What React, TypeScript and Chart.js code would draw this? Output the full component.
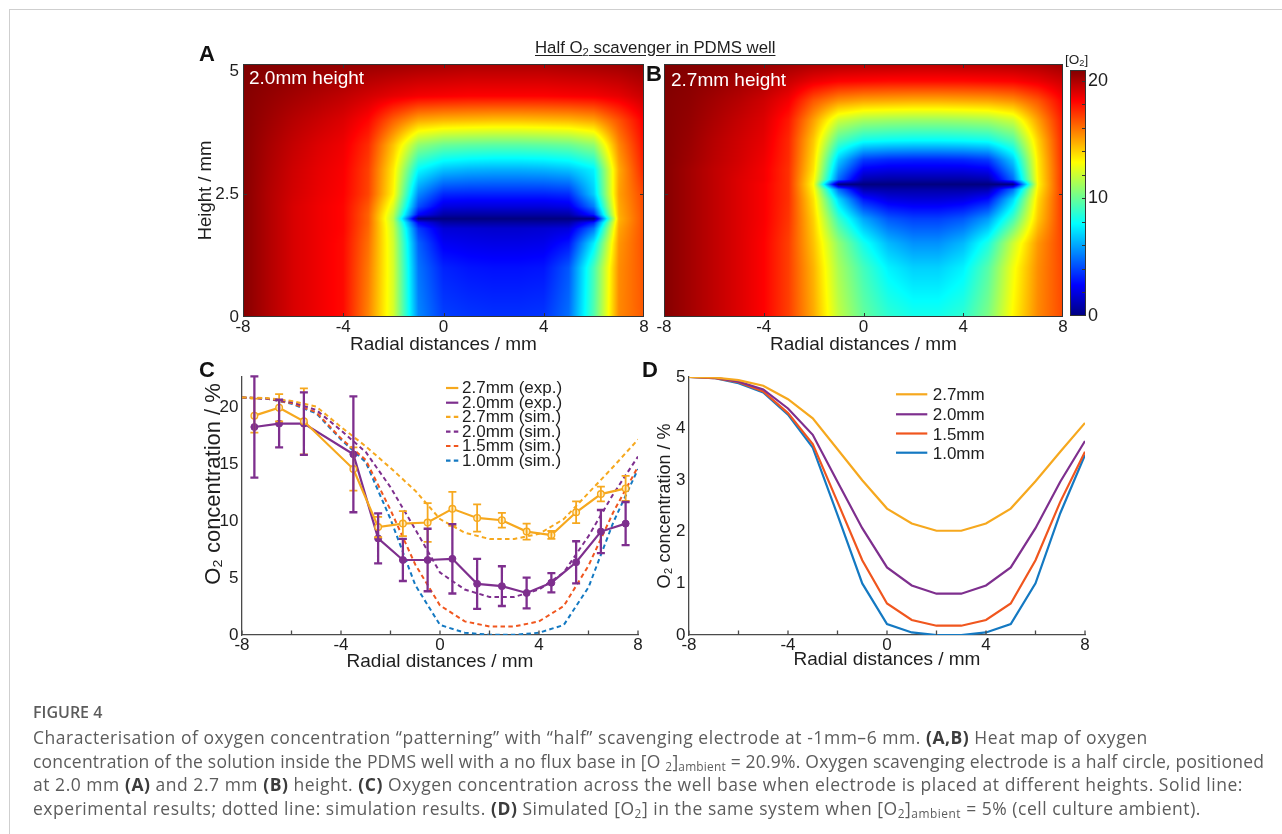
import React, { useEffect, useRef } from 'react';
import { Chart, registerables } from 'chart.js';

Chart.register(...registerables);

// ---------------- data ----------------
// heat maps: O2 concentration (%) on a grid, x = radial distance (mm), y = height (mm)
const heatX = [-8, -7, -6, -5, -4, -3, -2, -1, 0, 1, 2, 3, 4, 5, 6, 7, 8];

const heatA_Y = [0, 1.0, 1.5, 1.8, 1.92, 2.0, 2.08, 2.25, 2.5, 3.0, 3.5, 4.0, 4.5, 5.15];
const heatA_O2 = [
  [20.8, 19.9, 19.1, 18.6, 18.1, 15.6, 12.2, 5.4, 3.9, 3.7, 3.6, 3.6, 3.7, 4.9, 9.5, 15.5, 16.5],
  [20.8, 19.9, 19.1, 18.6, 18.1, 15.8, 12.2, 5.0, 3.3, 3.0, 2.9, 2.9, 3.0, 4.4, 9.3, 15.4, 16.6],
  [20.8, 19.9, 19.1, 18.6, 18.1, 16.0, 12.1, 4.6, 2.4, 2.2, 2.1, 2.1, 2.2, 3.0, 7.5, 15.2, 16.7],
  [20.8, 19.9, 19.1, 18.6, 18.2, 16.2, 11.9, 3.8, 1.8, 1.7, 1.6, 1.6, 1.7, 1.9, 5.0, 14.9, 16.7],
  [20.8, 19.9, 19.1, 18.6, 18.2, 16.3, 11.7, 2.6, 0.8, 0.7, 0.7, 0.7, 0.7, 0.8, 3.2, 14.7, 16.7],
  [20.8, 19.9, 19.1, 18.6, 18.2, 16.3, 11.5, 0.0, 0.0, 0.0, 0.0, 0.0, 0.0, 0.0, 0.0, 14.6, 16.7],
  [20.8, 19.9, 19.1, 18.6, 18.2, 16.3, 11.7, 2.6, 0.8, 0.7, 0.7, 0.7, 0.7, 0.8, 3.2, 14.7, 16.7],
  [20.8, 19.9, 19.1, 18.6, 18.2, 16.5, 12.3, 4.2, 2.0, 1.9, 1.9, 1.9, 1.9, 2.1, 5.2, 14.8, 16.8],
  [20.8, 19.9, 19.2, 18.7, 18.3, 16.9, 13.2, 5.4, 3.4, 3.3, 3.3, 3.3, 3.3, 3.5, 6.8, 15.0, 16.9],
  [20.8, 20.0, 19.3, 18.8, 18.4, 17.0, 13.5, 7.8, 6.6, 6.3, 6.2, 6.2, 6.3, 6.6, 7.6, 14.8, 17.6],
  [20.8, 20.1, 19.5, 19.0, 18.6, 17.4, 14.3, 10.8, 10.0, 9.8, 9.7, 9.7, 9.8, 10.0, 10.8, 15.5, 18.0],
  [20.8, 20.3, 19.8, 19.4, 19.0, 18.2, 16.3, 14.8, 14.5, 14.4, 14.3, 14.3, 14.4, 14.5, 14.9, 16.6, 18.4],
  [20.8, 20.5, 20.2, 19.9, 19.6, 19.2, 18.8, 18.5, 18.4, 18.3, 18.3, 18.3, 18.3, 18.4, 18.5, 18.8, 19.4],
  [20.9, 20.8, 20.7, 20.6, 20.5, 20.4, 20.3, 20.2, 20.1, 20.0, 20.0, 20.0, 20.0, 20.1, 20.2, 20.3, 20.5],
];

const heatB_Y = [0, 1.0, 1.5, 2.0, 2.4, 2.6, 2.7, 2.8, 3.0, 3.2, 3.6, 4.0, 4.4, 4.8, 5.15];
const heatB_O2 = [
  [20.8, 20.2, 19.6, 19.0, 18.3, 17.0, 14.8, 11.8, 9.9, 8.8, 8.3, 8.3, 8.8, 10.4, 13.2, 15.5, 16.8],
  [20.8, 20.2, 19.6, 19.0, 18.3, 17.0, 14.6, 11.3, 9.2, 7.6, 6.9, 6.9, 7.6, 9.6, 12.8, 15.4, 16.9],
  [20.8, 20.2, 19.6, 19.0, 18.3, 17.0, 14.3, 10.8, 8.2, 6.4, 5.6, 5.6, 6.4, 8.4, 12.0, 15.2, 17.0],
  [20.8, 20.2, 19.6, 19.0, 18.4, 17.2, 14.0, 9.0, 6.0, 4.4, 3.9, 3.9, 4.4, 5.8, 9.2, 14.2, 17.2],
  [20.8, 20.2, 19.6, 19.0, 18.4, 17.3, 13.6, 7.0, 3.0, 2.0, 1.8, 1.8, 2.0, 2.8, 7.0, 13.8, 17.3],
  [20.8, 20.2, 19.6, 19.0, 18.4, 17.3, 13.2, 4.8, 1.0, 0.8, 0.8, 0.8, 0.8, 1.0, 4.8, 13.4, 17.3],
  [20.8, 20.2, 19.6, 19.0, 18.4, 17.3, 13.0, 0.0, 0.0, 0.0, 0.0, 0.0, 0.0, 0.0, 0.0, 13.2, 17.4],
  [20.8, 20.2, 19.6, 19.0, 18.5, 17.3, 13.2, 4.8, 1.0, 0.8, 0.8, 0.8, 0.8, 1.0, 4.8, 13.3, 17.4],
  [20.8, 20.2, 19.6, 19.1, 18.5, 17.3, 13.6, 5.8, 2.4, 2.1, 2.1, 2.1, 2.1, 2.4, 5.8, 13.4, 17.4],
  [20.8, 20.3, 19.7, 19.2, 18.6, 17.4, 13.8, 6.8, 3.8, 3.4, 3.3, 3.3, 3.4, 3.8, 6.8, 13.5, 17.5],
  [20.8, 20.4, 19.8, 19.3, 18.8, 17.5, 14.2, 9.5, 8.2, 8.0, 7.9, 7.9, 8.0, 8.2, 9.5, 14.0, 17.6],
  [20.8, 20.5, 20.0, 19.5, 19.0, 17.8, 15.0, 12.0, 11.2, 11.0, 10.9, 10.9, 11.0, 11.2, 12.0, 15.0, 17.8],
  [20.8, 20.6, 20.2, 19.8, 19.3, 18.5, 16.5, 15.3, 14.9, 14.8, 14.7, 14.7, 14.8, 14.9, 15.3, 16.5, 18.3],
  [20.9, 20.7, 20.5, 20.2, 19.9, 19.4, 18.7, 18.3, 18.2, 18.1, 18.1, 18.1, 18.1, 18.2, 18.3, 18.7, 19.3],
  [20.9, 20.8, 20.7, 20.6, 20.4, 20.2, 20.0, 19.9, 19.8, 19.8, 19.7, 19.7, 19.8, 19.8, 19.9, 20.0, 20.3],
];

const O2_MAX = 20.9;
const heatXTicks = [-8, -4, 0, 4, 8];
const heatYTicks = [0, 2.5, 5];
const colorbarTicks = [0, 10, 20];

// panel C: experiment (mean ± error) and simulation at 20.9 % ambient
const expX = [-7.5, -6.5, -5.5, -3.5, -2.5, -1.5, -0.5, 0.5, 1.5, 2.5, 3.5, 4.5, 5.5, 6.5, 7.5];
const exp27 = [19.3, 20.0, 18.8, 14.6, 9.5, 9.8, 9.9, 11.1, 10.3, 10.1, 9.1, 8.8, 10.8, 12.4, 12.9];
const exp27Err = [1.5, 1.2, 2.9, 1.9, 0.9, 1.1, 1.7, 1.5, 1.2, 0.65, 0.7, 0.35, 0.95, 0.65, 1.1];
const exp20 = [18.3, 18.6, 18.6, 15.9, 8.5, 6.6, 6.6, 6.7, 4.5, 4.3, 3.7, 4.6, 6.4, 9.1, 9.8];
const exp20Err = [4.45, 2.1, 2.75, 5.1, 2.2, 1.85, 2.75, 3.05, 2.2, 1.75, 1.35, 0.85, 1.85, 1.9, 1.9];

const simX = [-8, -7, -6, -5, -4, -3, -2, -1, 0, 1, 2, 3, 4, 5, 6, 7, 8];
const sim27C = [20.9, 20.85, 20.6, 20.1, 18.3, 16.6, 14.7, 12.7, 10.2, 9.0, 8.45, 8.45, 8.9, 10.2, 12.5, 14.8, 17.2];
const sim20C = [20.9, 20.8, 20.5, 19.8, 18.0, 16.1, 13.0, 9.3, 5.5, 4.0, 3.35, 3.35, 4.0, 5.5, 8.7, 12.4, 15.7];
const sim15C = [20.9, 20.8, 20.4, 19.6, 17.3, 15.4, 11.0, 6.2, 2.6, 1.2, 0.75, 0.75, 1.2, 2.55, 6.1, 10.8, 14.8];
const sim10C = [20.9, 20.8, 20.35, 19.5, 17.2, 15.2, 10.2, 4.4, 0.88, 0.2, 0.02, 0.02, 0.2, 0.88, 4.2, 9.9, 14.6];
const cYTicks = [0, 5, 10, 15, 20];

// panel D: simulation at 5 % ambient
const sim27D = [5.0, 4.99, 4.94, 4.83, 4.57, 4.2, 3.6, 3.0, 2.45, 2.16, 2.02, 2.02, 2.16, 2.45, 2.98, 3.55, 4.11];
const sim20D = [5.0, 4.99, 4.91, 4.76, 4.39, 3.88, 2.97, 2.07, 1.31, 0.96, 0.8, 0.8, 0.96, 1.31, 2.07, 2.97, 3.76];
const sim15D = [5.0, 4.98, 4.9, 4.72, 4.3, 3.7, 2.58, 1.45, 0.61, 0.29, 0.18, 0.18, 0.29, 0.61, 1.45, 2.58, 3.55];
const sim10D = [5.0, 4.98, 4.88, 4.7, 4.27, 3.63, 2.33, 1.0, 0.21, 0.05, 0.0, 0.0, 0.05, 0.21, 1.0, 2.36, 3.49];
const dYTicks = [0, 1, 2, 3, 4, 5];
const lineXTicks = [-8, -4, 0, 4, 8];
const minorXTicks = [-8, -6, -4, -2, 0, 2, 4, 6, 8];

// ---------------- style ----------------
const PAGE_W = 1282;
const PAGE_H = 834;
const SANS = '"Liberation Sans", Arial, Helvetica, sans-serif';
const CAPFONT = '"Open Sans", "Noto Sans", sans-serif';
const TXT = '#1e1e1e';
const AXIS = '#4a4a4a';
const ORANGE = '#F6A81E';
const PURPLE = '#7E2F8E';
const RED = '#F0561E';
const BLUE = '#1479C2';
const CAP_COLOR = '#5c5c5c';

type Area = { left: number; right: number; top: number; bottom: number };
const areaA: Area = { left: 243, right: 644, top: 64, bottom: 317 };
const areaB: Area = { left: 664, right: 1063, top: 64, bottom: 317 };
const areaBar: Area = { left: 1070, right: 1086, top: 70, bottom: 316 };
const areaC: Area = { left: 242, right: 638, top: 377, bottom: 635 };
const areaD: Area = { left: 689, right: 1085, top: 377, bottom: 635 };

function pad(a: Area, leftW: number, bottomH: number, rightW = 0) {
  return {
    left: a.left - leftW,
    top: a.top,
    right: PAGE_W - a.right - rightW,
    bottom: PAGE_H - a.bottom - bottomH,
  };
}
const fixW = (w: number) => (s: any) => {
  s.width = w;
  s.paddingLeft = s.paddingRight = s.paddingTop = s.paddingBottom = 0;
};
const fixH = (h: number) => (s: any) => {
  s.height = h;
  s.paddingLeft = s.paddingRight = s.paddingTop = s.paddingBottom = 0;
};
const setTicks = (vals: number[]) => (s: any) => {
  s.ticks = vals.map((v) => ({ value: v }));
};
const zip = (xs: number[], ys: number[]) => xs.map((x, i) => ({ x, y: ys[i] }));

function clamp01(v: number) {
  return v < 0 ? 0 : v > 1 ? 1 : v;
}
function jet(t: number): [number, number, number] {
  t = clamp01(t);
  const r = clamp01(1.5 - Math.abs(4 * t - 3));
  const g = clamp01(1.5 - Math.abs(4 * t - 2));
  const b = clamp01(1.5 - Math.abs(4 * t - 1));
  return [Math.round(r * 255), Math.round(g * 255), Math.round(b * 255)];
}
function locate(arr: number[], v: number): [number, number] {
  const n = arr.length;
  if (v <= arr[0]) return [0, 0];
  if (v >= arr[n - 1]) return [n - 2, 1];
  let k = 0;
  while (k < n - 2 && v > arr[k + 1]) k++;
  return [k, (v - arr[k]) / (arr[k + 1] - arr[k])];
}

function makeHeatPlugin(ys: number[], z: number[][]) {
  return {
    id: 'heatImage',
    beforeDatasetsDraw(chart: any) {
      const { ctx, chartArea: a, scales } = chart;
      const w = Math.round(a.right - a.left);
      const h = Math.round(a.bottom - a.top);
      const off = document.createElement('canvas');
      off.width = w;
      off.height = h;
      const octx = off.getContext('2d')!;
      const img = octx.createImageData(w, h);
      const ci: number[] = [];
      const ct: number[] = [];
      for (let i = 0; i < w; i++) {
        const [k, t] = locate(heatX, scales.x.getValueForPixel(a.left + i + 0.5));
        ci.push(k);
        ct.push(t);
      }
      for (let j = 0; j < h; j++) {
        const [r, s] = locate(ys, scales.y.getValueForPixel(a.top + j + 0.5));
        const r0 = z[r];
        const r1 = z[r + 1];
        for (let i = 0; i < w; i++) {
          const k = ci[i];
          const t = ct[i];
          const v =
            (1 - s) * ((1 - t) * r0[k] + t * r0[k + 1]) + s * ((1 - t) * r1[k] + t * r1[k + 1]);
          const [R, G, B] = jet(v / O2_MAX);
          const p = (j * w + i) * 4;
          img.data[p] = R;
          img.data[p + 1] = G;
          img.data[p + 2] = B;
          img.data[p + 3] = 255;
        }
      }
      octx.putImageData(img, 0, 0);
      ctx.drawImage(off, a.left, a.top);
    },
  };
}

const heatFrame = {
  id: 'heatFrame',
  afterDraw(chart: any) {
    const { ctx, chartArea: a, scales } = chart;
    ctx.save();
    ctx.strokeStyle = '#333';
    ctx.lineWidth = 1;
    ctx.strokeRect(a.left + 0.5, a.top + 0.5, a.right - a.left - 1, a.bottom - a.top - 1);
    ctx.beginPath();
    for (const v of [-4, 0, 4]) {
      const px = Math.round(scales.x.getPixelForValue(v)) + 0.5;
      ctx.moveTo(px, a.bottom);
      ctx.lineTo(px, a.bottom - 4);
      ctx.moveTo(px, a.top);
      ctx.lineTo(px, a.top + 4);
    }
    const py = Math.round(scales.y.getPixelForValue(2.5)) + 0.5;
    ctx.moveTo(a.left, py);
    ctx.lineTo(a.left + 4, py);
    ctx.moveTo(a.right, py);
    ctx.lineTo(a.right - 4, py);
    ctx.stroke();
    ctx.restore();
  },
};

const colorbarPlugin = {
  id: 'colorbar',
  beforeDatasetsDraw(chart: any) {
    const { ctx, chartArea: a, scales } = chart;
    for (let y = Math.floor(a.top); y < a.bottom; y++) {
      const v = scales.y.getValueForPixel(y + 0.5);
      const [r, g, b] = jet(v / O2_MAX);
      ctx.fillStyle = `rgb(${r},${g},${b})`;
      ctx.fillRect(a.left, y, a.right - a.left, 1);
    }
  },
  afterDraw(chart: any) {
    const { ctx, chartArea: a, scales } = chart;
    ctx.save();
    ctx.strokeStyle = '#333';
    ctx.lineWidth = 1;
    ctx.strokeRect(a.left + 0.5, a.top + 0.5, a.right - a.left - 1, a.bottom - a.top - 1);
    ctx.beginPath();
    for (let v = 2; v <= 20; v += 2) {
      const py = Math.round(scales.y.getPixelForValue(v)) + 0.5;
      ctx.moveTo(a.right, py);
      ctx.lineTo(a.right - 4, py);
    }
    ctx.stroke();
    ctx.restore();
  },
};

const minorTicksPlugin = {
  id: 'minorTicks',
  afterDraw(chart: any) {
    const { ctx, chartArea: a, scales } = chart;
    ctx.save();
    ctx.strokeStyle = AXIS;
    ctx.lineWidth = 1.3;
    ctx.beginPath();
    for (const v of minorXTicks) {
      const px = scales.x.getPixelForValue(v);
      ctx.moveTo(px, a.bottom);
      ctx.lineTo(px, a.bottom - 4.5);
    }
    ctx.stroke();
    ctx.restore();
  },
};

const errorBarPlugin = {
  id: 'errorBars',
  afterDatasetsDraw(chart: any) {
    const { ctx, scales } = chart;
    ctx.save();
    chart.data.datasets.forEach((ds: any) => {
      if (!ds.errors) return;
      ctx.strokeStyle = ds.borderColor;
      ctx.lineWidth = ds.errorWidth || 2;
      ctx.setLineDash([]);
      ctx.beginPath();
      ds.data.forEach((p: any, i: number) => {
        const e = ds.errors[i];
        const px = scales.x.getPixelForValue(p.x);
        const y1 = scales.y.getPixelForValue(p.y + e);
        const y0 = scales.y.getPixelForValue(p.y - e);
        ctx.moveTo(px, y0);
        ctx.lineTo(px, y1);
        ctx.moveTo(px - 4, y0);
        ctx.lineTo(px + 4, y0);
        ctx.moveTo(px - 4, y1);
        ctx.lineTo(px + 4, y1);
      });
      ctx.stroke();
    });
    ctx.restore();
  },
};

function makeLegend(cfg: { x1: number; x2: number; tx: number; ys: number[]; size: number; dy: number }) {
  return {
    id: 'insideLegend',
    afterDraw(chart: any) {
      const ctx = chart.ctx;
      ctx.save();
      chart.data.datasets.forEach((ds: any, i: number) => {
        const y = cfg.ys[i];
        ctx.strokeStyle = ds.borderColor;
        ctx.lineWidth = 2.2;
        ctx.setLineDash(ds.borderDash || []);
        ctx.beginPath();
        ctx.moveTo(cfg.x1, y);
        ctx.lineTo(cfg.x2, y);
        ctx.stroke();
        ctx.setLineDash([]);
        ctx.fillStyle = TXT;
        ctx.font = `${cfg.size}px ${SANS}`;
        ctx.textBaseline = 'middle';
        ctx.textAlign = 'left';
        ctx.fillText(ds.label, cfg.tx, y + cfg.dy);
      });
      ctx.restore();
    },
  };
}

const tickFont = (size: number) => ({ family: SANS, size });
const titleFont = (size: number) => ({ family: SANS, size, lineHeight: 1 });
const noGrid = { display: false, drawTicks: false };
const baseOpts = {
  responsive: false,
  animation: false as const,
  events: [] as any[],
  plugins: { legend: { display: false }, tooltip: { enabled: false } },
};

function heatConfig(area: Area, ys: number[], z: number[][], showY: boolean) {
  const points: { x: number; y: number }[] = [];
  ys.forEach((y) => heatX.forEach((x) => points.push({ x, y })));
  const yW = 46.75;
  const xH = 37.5;
  return {
    type: 'scatter',
    data: { datasets: [{ data: points, pointRadius: 0 }] },
    options: {
      ...baseOpts,
      layout: { padding: pad(area, showY ? yW : 0, xH) },
      scales: {
        x: {
          type: 'linear',
          min: -8,
          max: 8,
          afterBuildTicks: setTicks(heatXTicks),
          afterFit: fixH(xH),
          grid: noGrid,
          border: { display: false },
          ticks: { font: tickFont(17), color: TXT, padding: 0, maxRotation: 0, autoSkip: false, callback: (v: any) => String(v) },
          title: { display: true, text: 'Radial distances / mm', font: titleFont(19), color: TXT, padding: 0 },
        },
        y: {
          type: 'linear',
          display: showY,
          min: 0,
          max: 5.15,
          afterBuildTicks: setTicks(heatYTicks),
          ...(showY ? { afterFit: fixW(yW) } : {}),
          grid: noGrid,
          border: { display: false },
          ticks: { font: tickFont(17), color: TXT, padding: 4, autoSkip: false, callback: (v: any) => String(v) },
          title: { display: true, text: 'Height / mm', font: titleFont(18.5), color: TXT, padding: 0 },
        },
      },
    },
    plugins: [makeHeatPlugin(ys, z), heatFrame],
  };
}

function colorbarConfig() {
  const yW = 30;
  return {
    type: 'scatter',
    data: { datasets: [{ data: [] as any[], pointRadius: 0 }] },
    options: {
      ...baseOpts,
      layout: { padding: pad(areaBar, 0, 0, yW) },
      scales: {
        x: { type: 'linear', display: false, min: 0, max: 1 },
        y: {
          type: 'linear',
          position: 'right',
          min: 0,
          max: O2_MAX,
          afterBuildTicks: setTicks(colorbarTicks),
          afterFit: fixW(yW),
          grid: noGrid,
          border: { display: false },
          ticks: { font: tickFont(18), color: TXT, padding: 2, autoSkip: false, callback: (v: any) => String(v) },
        },
      },
    },
    plugins: [colorbarPlugin],
  };
}

function lineScales(yMax: number, yTicks: number[], yW: number, xH: number, yTitleSize: number, yAlign: string, yTitle: string) {
  return {
    x: {
      type: 'linear',
      min: -8,
      max: 8,
      afterBuildTicks: setTicks(lineXTicks),
      afterFit: fixH(xH),
      grid: noGrid,
      border: { display: true, color: AXIS, width: 1.3 },
      ticks: { font: tickFont(17), color: TXT, padding: 0, maxRotation: 0, autoSkip: false, callback: (v: any) => String(v) },
      title: { display: true, text: 'Radial distances / mm', font: titleFont(19), color: TXT, padding: 0 },
    },
    y: {
      type: 'linear',
      min: 0,
      max: yMax,
      afterBuildTicks: setTicks(yTicks),
      afterFit: fixW(yW),
      grid: noGrid,
      border: { display: true, color: AXIS, width: 1.3 },
      ticks: { font: tickFont(17), color: TXT, padding: 3.5, autoSkip: false, callback: (v: any) => String(v) },
      title: { display: true, text: yTitle, align: yAlign, font: titleFont(yTitleSize), color: TXT, padding: 0 },
    },
  };
}

function chartCConfig() {
  const dash = [4.5, 3.3];
  return {
    type: 'line',
    data: {
      datasets: [
        {
          label: '2.7mm (exp.)', data: zip(expX, exp27), errors: exp27Err, errorWidth: 1.8,
          borderColor: ORANGE, borderWidth: 2.2, pointRadius: 3.3, pointBorderWidth: 1.4,
          pointBorderColor: ORANGE, pointBackgroundColor: 'rgba(255,240,200,0.9)', tension: 0,
        },
        {
          label: '2.0mm (exp.)', data: zip(expX, exp20), errors: exp20Err, errorWidth: 2.3,
          borderColor: PURPLE, borderWidth: 2.2, pointRadius: 3.5, pointBorderWidth: 1,
          pointBorderColor: PURPLE, pointBackgroundColor: PURPLE, tension: 0,
        },
        { label: '2.7mm (sim.)', data: zip(simX, sim27C), borderColor: ORANGE, borderDash: dash, borderWidth: 2, pointRadius: 0 },
        { label: '2.0mm (sim.)', data: zip(simX, sim20C), borderColor: PURPLE, borderDash: dash, borderWidth: 2, pointRadius: 0 },
        { label: '1.5mm (sim.)', data: zip(simX, sim15C), borderColor: RED, borderDash: dash, borderWidth: 2, pointRadius: 0 },
        { label: '1.0mm (sim.)', data: zip(simX, sim10C), borderColor: BLUE, borderDash: dash, borderWidth: 2, pointRadius: 0 },
      ],
    },
    options: {
      ...baseOpts,
      layout: { padding: pad(areaC, 39.5, 36.5) },
      scales: lineScales(22.7, cYTicks, 39.5, 36.5, 22, 'end', 'O₂ concentration / % '),
    },
    plugins: [
      errorBarPlugin,
      minorTicksPlugin,
      makeLegend({ x1: 446, x2: 458.3, tx: 462, ys: [388, 402.7, 416.8, 431.6, 446, 460.7], size: 17, dy: 0.5 }),
    ],
  };
}

function chartDConfig() {
  return {
    type: 'line',
    data: {
      datasets: [
        { label: '2.7mm', data: zip(simX, sim27D), borderColor: ORANGE, borderWidth: 2.2, pointRadius: 0 },
        { label: '2.0mm', data: zip(simX, sim20D), borderColor: PURPLE, borderWidth: 2.2, pointRadius: 0 },
        { label: '1.5mm', data: zip(simX, sim15D), borderColor: RED, borderWidth: 2.2, pointRadius: 0 },
        { label: '1.0mm', data: zip(simX, sim10D), borderColor: BLUE, borderWidth: 2.2, pointRadius: 0 },
      ],
    },
    options: {
      ...baseOpts,
      layout: { padding: pad(areaD, 32.5, 34.5) },
      scales: lineScales(5, dYTicks, 32.5, 34.5, 18, 'center', 'O₂ concentration / %'),
    },
    plugins: [
      minorTicksPlugin,
      makeLegend({ x1: 896, x2: 927.3, tx: 932.7, ys: [394.3, 414.3, 433.5, 452.7], size: 17, dy: 1.5 }),
    ],
  };
}

// ---------------- html text helpers ----------------
function Txt(props: {
  x: number; base: number; size: number; family?: string; weight?: number | string;
  color?: string; metric?: number; style?: React.CSSProperties; children: React.ReactNode;
}) {
  const { x, base, size, family = SANS, weight = 400, color = TXT, metric = 0.8465, style, children } = props;
  return (
    <div
      style={{
        position: 'absolute', left: x, top: base - metric * size, fontFamily: family, fontSize: size,
        fontWeight: weight as any, lineHeight: `${size}px`, color, whiteSpace: 'nowrap', ...style,
      }}
    >
      {children}
    </div>
  );
}
const Sub = ({ children }: { children: React.ReactNode }) => (
  <span style={{ fontSize: '0.68em', verticalAlign: '-0.25em', lineHeight: 1 }}>{children}</span>
);
const B = ({ children }: { children: React.ReactNode }) => (
  <b style={{ fontWeight: 700, color: '#3c3c3c' }}>{children}</b>
);

export default function App() {
  const rA = useRef<HTMLCanvasElement>(null);
  const rB = useRef<HTMLCanvasElement>(null);
  const rBar = useRef<HTMLCanvasElement>(null);
  const rC = useRef<HTMLCanvasElement>(null);
  const rD = useRef<HTMLCanvasElement>(null);

  useEffect(() => {
    const charts = [
      new Chart(rA.current!, heatConfig(areaA, heatA_Y, heatA_O2, true) as any),
      new Chart(rB.current!, heatConfig(areaB, heatB_Y, heatB_O2, false) as any),
      new Chart(rBar.current!, colorbarConfig() as any),
      new Chart(rC.current!, chartCConfig() as any),
      new Chart(rD.current!, chartDConfig() as any),
    ];
    return () => charts.forEach((c) => c.destroy());
  }, []);

  const canvasStyle: React.CSSProperties = {
    position: 'absolute', left: 0, top: 0, width: PAGE_W, height: PAGE_H, display: 'block',
  };
  const capSize = 17.5;
  const capMetric = 0.888;
  const wide: React.CSSProperties = { letterSpacing: '0.53px' };

  return (
    <div style={{ position: 'absolute', left: 0, top: 0, width: PAGE_W, height: PAGE_H, overflow: 'hidden', background: '#fff' }}>
      <div
        style={{
          position: 'absolute', left: 9, top: 9, width: 1400, height: 1000,
          borderTop: '1.5px solid #cfcfcf', borderLeft: '1.5px solid #cfcfcf',
        }}
      />
      <canvas ref={rA} width={PAGE_W} height={PAGE_H} style={canvasStyle} />
      <canvas ref={rB} width={PAGE_W} height={PAGE_H} style={canvasStyle} />
      <canvas ref={rBar} width={PAGE_W} height={PAGE_H} style={canvasStyle} />
      <canvas ref={rC} width={PAGE_W} height={PAGE_H} style={canvasStyle} />
      <canvas ref={rD} width={PAGE_W} height={PAGE_H} style={canvasStyle} />

      <Txt x={199} base={62} size={22} weight={700} color="#111">A</Txt>
      <Txt x={646} base={81.5} size={22} weight={700} color="#111">B</Txt>
      <Txt x={199} base={378} size={22} weight={700} color="#111">C</Txt>
      <Txt x={642} base={378} size={22} weight={700} color="#111">D</Txt>

      <Txt x={535} base={54} size={16.8} style={{ textDecoration: 'underline', textUnderlineOffset: '2px' }}>
        Half O<Sub>2</Sub> scavenger in PDMS well
      </Txt>
      <Txt x={1065} base={64} size={13.5}>
        [O<Sub>2</Sub>]
      </Txt>
      <Txt x={249} base={84} size={19} color="#ffffff">2.0mm height</Txt>
      <Txt x={671} base={86} size={19} color="#ffffff">2.7mm height</Txt>

      <Txt x={33} base={718} size={16} family={CAPFONT} weight={600} color={CAP_COLOR} metric={capMetric}>
        FIGURE 4
      </Txt>
      <Txt x={33} base={745} size={capSize} family={CAPFONT} color={CAP_COLOR} metric={capMetric} style={wide}>
        Characterisation of oxygen concentration “patterning” with “half” scavenging electrode at -1mm–6 mm. <B>(A,B)</B> Heat map of oxygen
      </Txt>
      <Txt x={33} base={768.5} size={capSize} family={CAPFONT} color={CAP_COLOR} metric={capMetric} style={{ letterSpacing: '0.21px' }}>
        concentration of the solution inside the PDMS well with a no flux base in [O <Sub>2</Sub>]<Sub>ambient</Sub> = 20.9%. Oxygen scavenging electrode is a half circle, positioned
      </Txt>
      <Txt x={33} base={792} size={capSize} family={CAPFONT} color={CAP_COLOR} metric={capMetric} style={wide}>
        at 2.0 mm <B>(A)</B> and 2.7 mm <B>(B)</B> height. <B>(C)</B> Oxygen concentration across the well base when electrode is placed at different heights. Solid line:
      </Txt>
      <Txt x={33} base={815.5} size={capSize} family={CAPFONT} color={CAP_COLOR} metric={capMetric} style={wide}>
        experimental results; dotted line: simulation results. <B>(D)</B> Simulated [O<Sub>2</Sub>] in the same system when [O<Sub>2</Sub>]<Sub>ambient</Sub> = 5% (cell culture ambient).
      </Txt>
    </div>
  );
}
